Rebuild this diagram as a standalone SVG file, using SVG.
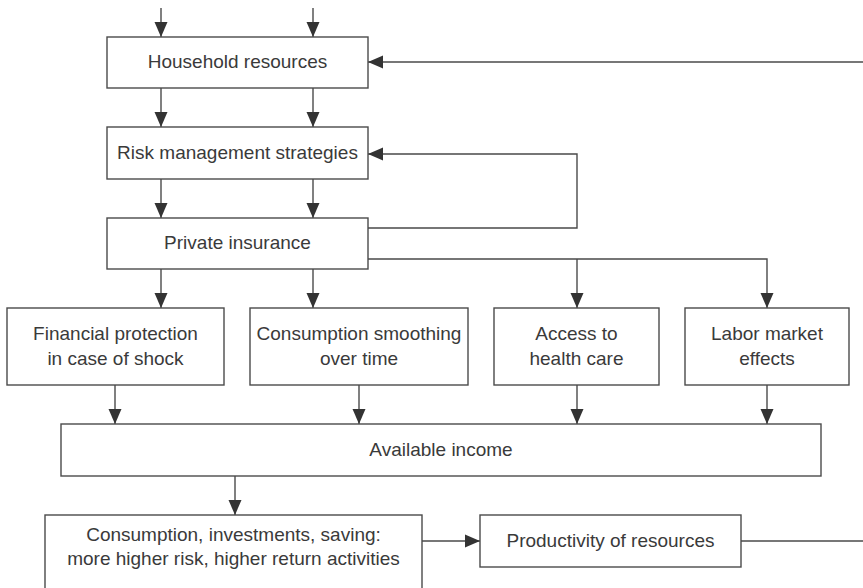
<svg xmlns="http://www.w3.org/2000/svg" width="863" height="588" viewBox="0 0 863 588">
<style>
  .box { fill: #fff; stroke: #4a4a4a; stroke-width: 1.4; }
  .lbl { font-family: "Liberation Sans", Arial, sans-serif; font-size: 19px; fill: #3a3a3a; text-anchor: middle; }
  .con { fill: none; stroke: #4a4a4a; stroke-width: 1.4; }
  .arr { marker-end: url(#ah); }
</style>
<defs>
  <marker id="ah" markerUnits="userSpaceOnUse" markerWidth="16" markerHeight="14" viewBox="0 0 16 14" refX="15" refY="7" orient="auto">
    <path d="M0,0.5 L15,7 L0,13.5 z" fill="#333"/>
  </marker>
</defs>
<rect width="863" height="588" fill="#fff"/>
<g id="connectors">
  <line class="con arr" x1="161" y1="8" x2="161" y2="37"/>
  <line class="con arr" x1="313" y1="8" x2="313" y2="37"/>
  <line class="con arr" x1="863" y1="62" x2="368" y2="62"/>
  <line class="con arr" x1="161" y1="88" x2="161" y2="127"/>
  <line class="con arr" x1="313" y1="88" x2="313" y2="127"/>
  <line class="con arr" x1="161" y1="179" x2="161" y2="218"/>
  <line class="con arr" x1="313" y1="179" x2="313" y2="218"/>
  <polyline class="con arr" points="368,228 577,228 577,154 368,154"/>
  <line class="con arr" x1="161" y1="269" x2="161" y2="308"/>
  <line class="con arr" x1="313" y1="269" x2="313" y2="308"/>
  <polyline class="con arr" points="368,259 767,259 767,308"/>
  <line class="con arr" x1="577" y1="259" x2="577" y2="308"/>
  <line class="con arr" x1="115" y1="385" x2="115" y2="424"/>
  <line class="con arr" x1="359" y1="385" x2="359" y2="424"/>
  <line class="con arr" x1="577" y1="385" x2="577" y2="424"/>
  <line class="con arr" x1="767" y1="385" x2="767" y2="424"/>
  <line class="con arr" x1="235" y1="476" x2="235" y2="515"/>
  <line class="con arr" x1="422" y1="541" x2="480" y2="541"/>
  <line class="con" x1="741" y1="541" x2="863" y2="541"/>
</g>
<g id="household">
  <rect class="box" x="107" y="37" width="261" height="51"/>
  <text class="lbl" x="237.5" y="68">Household resources</text>
</g>
<g id="risk">
  <rect class="box" x="107" y="127" width="261" height="52"/>
  <text class="lbl" x="237.5" y="159">Risk management strategies</text>
</g>
<g id="private">
  <rect class="box" x="107" y="218" width="261" height="51"/>
  <text class="lbl" x="237.5" y="249">Private insurance</text>
</g>
<g id="financial">
  <rect class="box" x="7" y="308" width="217" height="77"/>
  <text class="lbl" x="115.5" y="340">Financial protection</text>
  <text class="lbl" x="115.5" y="365">in case of shock</text>
</g>
<g id="smoothing">
  <rect class="box" x="250" y="308" width="218" height="77"/>
  <text class="lbl" x="359" y="340">Consumption smoothing</text>
  <text class="lbl" x="359" y="365">over time</text>
</g>
<g id="access">
  <rect class="box" x="494" y="308" width="165" height="77"/>
  <text class="lbl" x="576.5" y="340">Access to</text>
  <text class="lbl" x="576.5" y="365">health care</text>
</g>
<g id="labor">
  <rect class="box" x="685" y="308" width="164" height="77"/>
  <text class="lbl" x="767" y="340">Labor market</text>
  <text class="lbl" x="767" y="365">effects</text>
</g>
<g id="income">
  <rect class="box" x="61" y="424" width="760" height="52"/>
  <text class="lbl" x="441" y="456">Available income</text>
</g>
<g id="consumption">
  <rect class="box" x="45" y="515" width="377" height="80"/>
  <text class="lbl" x="233.5" y="541">Consumption, investments, saving:</text>
  <text class="lbl" x="233.5" y="565">more higher risk, higher return activities</text>
</g>
<g id="productivity">
  <rect class="box" x="480" y="515" width="261" height="52"/>
  <text class="lbl" x="610.5" y="547">Productivity of resources</text>
</g>
</svg>
